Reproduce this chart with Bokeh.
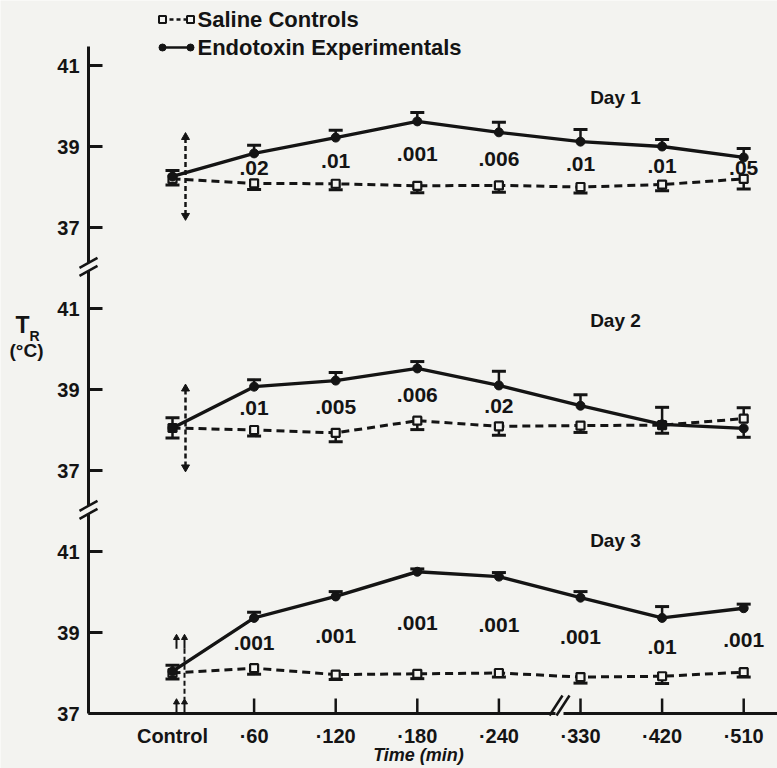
import numpy as np
from bokeh.plotting import figure
from bokeh.models import Range1d
from bokeh.embed import file_html
from bokeh.resources import INLINE
from bokeh.core.properties import value

# ---------------- data ----------------
categories = ["Control", "60", "120", "180", "240", "330", "420", "510"]
x_tick_labels = ["Control", "·60", "·120", "·180", "·240", "·330", "·420", "·510"]
y_tick_values = [37, 39, 41]
y_tick_labels = ["37", "39", "41"]
day_names = ["Day 1", "Day 2", "Day 3"]
series_names = ["Saline  Controls", "Endotoxin  Experimentals"]

endotoxin_day1 = [38.26, 38.83, 39.22, 39.62, 39.35, 39.12, 39.00, 38.73]
endotoxin_se_day1 = [0.15, 0.20, 0.18, 0.22, 0.25, 0.30, 0.17, 0.22]
saline_day1 = [38.20, 38.09, 38.08, 38.03, 38.04, 38.00, 38.06, 38.20]
saline_se_day1 = [0.15, 0.15, 0.15, 0.17, 0.17, 0.15, 0.15, 0.25]
p_day1 = ["", ".02", ".01", ".001", ".006", ".01", ".01", ".05"]

endotoxin_day2 = [38.05, 39.07, 39.22, 39.52, 39.10, 38.60, 38.14, 38.04]
endotoxin_se_day2 = [0.25, 0.17, 0.20, 0.17, 0.35, 0.27, 0.42, 0.22]
saline_day2 = [38.05, 38.00, 37.93, 38.23, 38.09, 38.11, 38.12, 38.28]
saline_se_day2 = [0.25, 0.15, 0.22, 0.22, 0.22, 0.17, 0.20, 0.27]
p_day2 = ["", ".01", ".005", ".006", ".02", "", "", ""]

endotoxin_day3 = [38.04, 39.36, 39.89, 40.50, 40.38, 39.86, 39.36, 39.60]
endotoxin_se_day3 = [0.15, 0.14, 0.12, 0.07, 0.10, 0.15, 0.28, 0.10]
saline_day3 = [38.00, 38.12, 37.96, 37.98, 38.00, 37.90, 37.92, 38.02]
saline_se_day3 = [0.15, 0.15, 0.12, 0.12, 0.10, 0.15, 0.18, 0.12]
p_day3 = ["", ".001", ".001", ".001", ".001", ".001", ".01", ".001"]

endotoxin = [endotoxin_day1, endotoxin_day2, endotoxin_day3]
endotoxin_se = [endotoxin_se_day1, endotoxin_se_day2, endotoxin_se_day3]
saline = [saline_day1, saline_day2, saline_day3]
saline_se = [saline_se_day1, saline_se_day2, saline_se_day3]
p_values = [p_day1, p_day2, p_day3]

# ---------------- layout helpers ----------------
W, H = 777, 768
PX_X = 81.6   # pixels per time category
PX_Y = 40.5   # pixels per degree C
X0 = 172      # page x of the first category
Y37 = 713     # page y of 37 C on the lowest panel
PANEL_STEP = 6  # each panel sits 6 C-units above the next


def sx(px):
    return (px - X0) / PX_X


def sy(py):
    return 37 + (Y37 - py) / PX_Y


def dx(px):
    return px / PX_X


def dy(px):
    return px / PX_Y


FONT = value("Liberation Sans")
INK = "#141414"
BG = "#f3f3f0"

p = figure(width=W, height=H, x_range=Range1d(sx(0), sx(W)),
           y_range=Range1d(sy(H), sy(0)), output_backend="svg",
           toolbar_location=None, x_axis_type=None, y_axis_type=None,
           min_border=0, outline_line_color=None,
           background_fill_color=BG, border_fill_color=BG)


def txt(x, y, t, size, align="center", style="bold", baseline="middle"):
    p.text(x=x, y=y, text=t, text_font=FONT, text_font_style=style,
           text_font_size=size, text_align=align, text_baseline=baseline,
           text_color=INK)


AX_X = sx(88)
LW = 3
gap = dy(4)
top = sy(46)
breaks = [PANEL_STEP * (2 - d) + 36.03 for d in range(2)]  # below day 1, day 2

# y axis with breaks
y_starts = [37, breaks[1] + gap, breaks[0] + gap]
y_ends = [breaks[1] - gap, breaks[0] - gap, top]
p.segment(x0=[AX_X] * 3, y0=y_starts, x1=[AX_X] * 3, y1=y_ends,
          line_width=LW, color=INK, line_cap="butt")
for yb in breaks:
    p.segment(x0=[AX_X - dx(9)] * 2, y0=[yb - gap - dy(5), yb + gap - dy(5)],
              x1=[AX_X + dx(9)] * 2, y1=[yb - gap + dy(5), yb + gap + dy(5)],
              line_width=2.5, color=INK)

# y ticks and labels per panel
for d in range(3):
    off = PANEL_STEP * (2 - d)
    ys = [v + off for v in y_tick_values]
    p.segment(x0=[AX_X] * 3, y0=ys, x1=[AX_X + dx(14)] * 3, y1=ys,
              line_width=LW, color=INK)
    txt([AX_X - dx(9)] * 3, ys, y_tick_labels, "20px", align="right")

# x axis with break
XB = sx(559)
x_end = sx(W + 5)
p.segment(x0=[AX_X, XB + dx(4)], y0=[37, 37], x1=[XB - dx(4), x_end], y1=[37, 37],
          line_width=LW, color=INK, line_cap="butt")
p.segment(x0=[XB - dx(10), XB - dx(3)], y0=[sy(715), sy(715)],
          x1=[XB + dx(3), XB + dx(10)], y1=[sy(695), sy(695)],
          line_width=2.5, color=INK)
xs = np.arange(len(categories), dtype=float)
p.segment(x0=xs[1:], y0=[37] * 7, x1=xs[1:], y1=[37 + dy(15)] * 7,
          line_width=2.5, color=INK)
txt(list(xs), [sy(735)] * len(xs), x_tick_labels, "20px")
txt([sx(418)], [sy(754)], ["Time (min)"], "18px", style="bold italic")

# y title
txt([sx(22)], [sy(324)], ["T"], "23px")
txt([sx(34)], [sy(335)], ["R"], "14px")
txt([sx(26)], [sy(350)], ["(°C)"], "19px")

# legend
leg_y1, leg_y2 = sy(19), sy(47)
p.line(x=[sx(162), sx(190)], y=[leg_y1, leg_y1], line_dash="4 3",
       line_width=2.5, color=INK)
p.scatter(x=[sx(162), sx(190)], y=[leg_y1] * 2, marker="square", size=7,
          fill_color=BG, line_color=INK, line_width=2)
p.line(x=[sx(162), sx(190)], y=[leg_y2, leg_y2], line_width=2.5, color=INK)
p.scatter(x=[sx(162), sx(190)], y=[leg_y2] * 2, marker="circle", size=7,
          fill_color=INK, line_color=INK)
txt([sx(197), sx(197)], [leg_y1, leg_y2], series_names, "22px", align="left")

day_label_level = [40.20, 40.70, 41.27]
CAP = dx(7)

for d in range(3):
    off = PANEL_STEP * (2 - d)
    e_raw = np.array(endotoxin[d])
    s_raw = np.array(saline[d])
    e = e_raw + off
    s = s_raw + off
    es = np.array(endotoxin_se[d])
    ss = np.array(saline_se[d])
    up = e_raw >= s_raw
    e_end = e + np.where(up, es, -es)
    s_end = s + np.where(up, -ss, ss)

    p.line(xs, s, line_dash="8 5", line_width=3, color=INK)
    p.line(xs, e, line_width=3.4, color=INK)

    p.segment(x0=xs, y0=e, x1=xs, y1=e_end, line_width=2.5, color=INK)
    p.segment(x0=xs - CAP, y0=e_end, x1=xs + CAP, y1=e_end, line_width=3, color=INK)
    p.segment(x0=xs, y0=s, x1=xs, y1=s_end, line_width=2.5, color=INK)
    p.segment(x0=xs - CAP, y0=s_end, x1=xs + CAP, y1=s_end, line_width=3, color=INK)

    p.scatter(xs, s, marker="square", size=8, fill_color=BG, line_color=INK, line_width=2.2)
    p.scatter(xs, e, marker="circle", size=9, fill_color=INK, line_color=INK)

    lbl_y = (e + s) / 2
    txt(list(xs[1:]), list(lbl_y[1:]), p_values[d][1:], "21px")
    txt([sx(615)], [day_label_level[d] + off], [day_names[d]], "19px")

    # injection markers at the control time
    if d < 2:
        xi = sx(185)
        c = e_raw[0] + off
        p.line(x=[xi, xi], y=[c - 0.95, c + 0.95], line_dash="5 3", line_width=2.5, color=INK)
        p.scatter([xi], [c + 0.97], marker="triangle", size=8, color=INK)
        p.scatter([xi], [c - 0.97], marker="inverted_triangle", size=8, color=INK)
    else:
        xa, xb = sx(176), sx(184)
        p.line(x=[xb, xb], y=[38.6 + off, 37.35 + off], line_dash="5 3", line_width=2, color=INK)
        p.segment(x0=[xa, xb], y0=[38.6 + off] * 2, x1=[xa, xb], y1=[38.85 + off] * 2,
                  line_width=2, color=INK)
        p.scatter([xa, xb], [38.87 + off] * 2, marker="triangle", size=6, color=INK)
        p.segment(x0=[xa, xb], y0=[37.0 + off] * 2, x1=[xa, xb], y1=[37.25 + off] * 2,
                  line_width=2, color=INK)
        p.scatter([xa, xb], [37.28 + off] * 2, marker="triangle", size=6, color=INK)

open("out.html", "w").write(file_html(p, INLINE))
